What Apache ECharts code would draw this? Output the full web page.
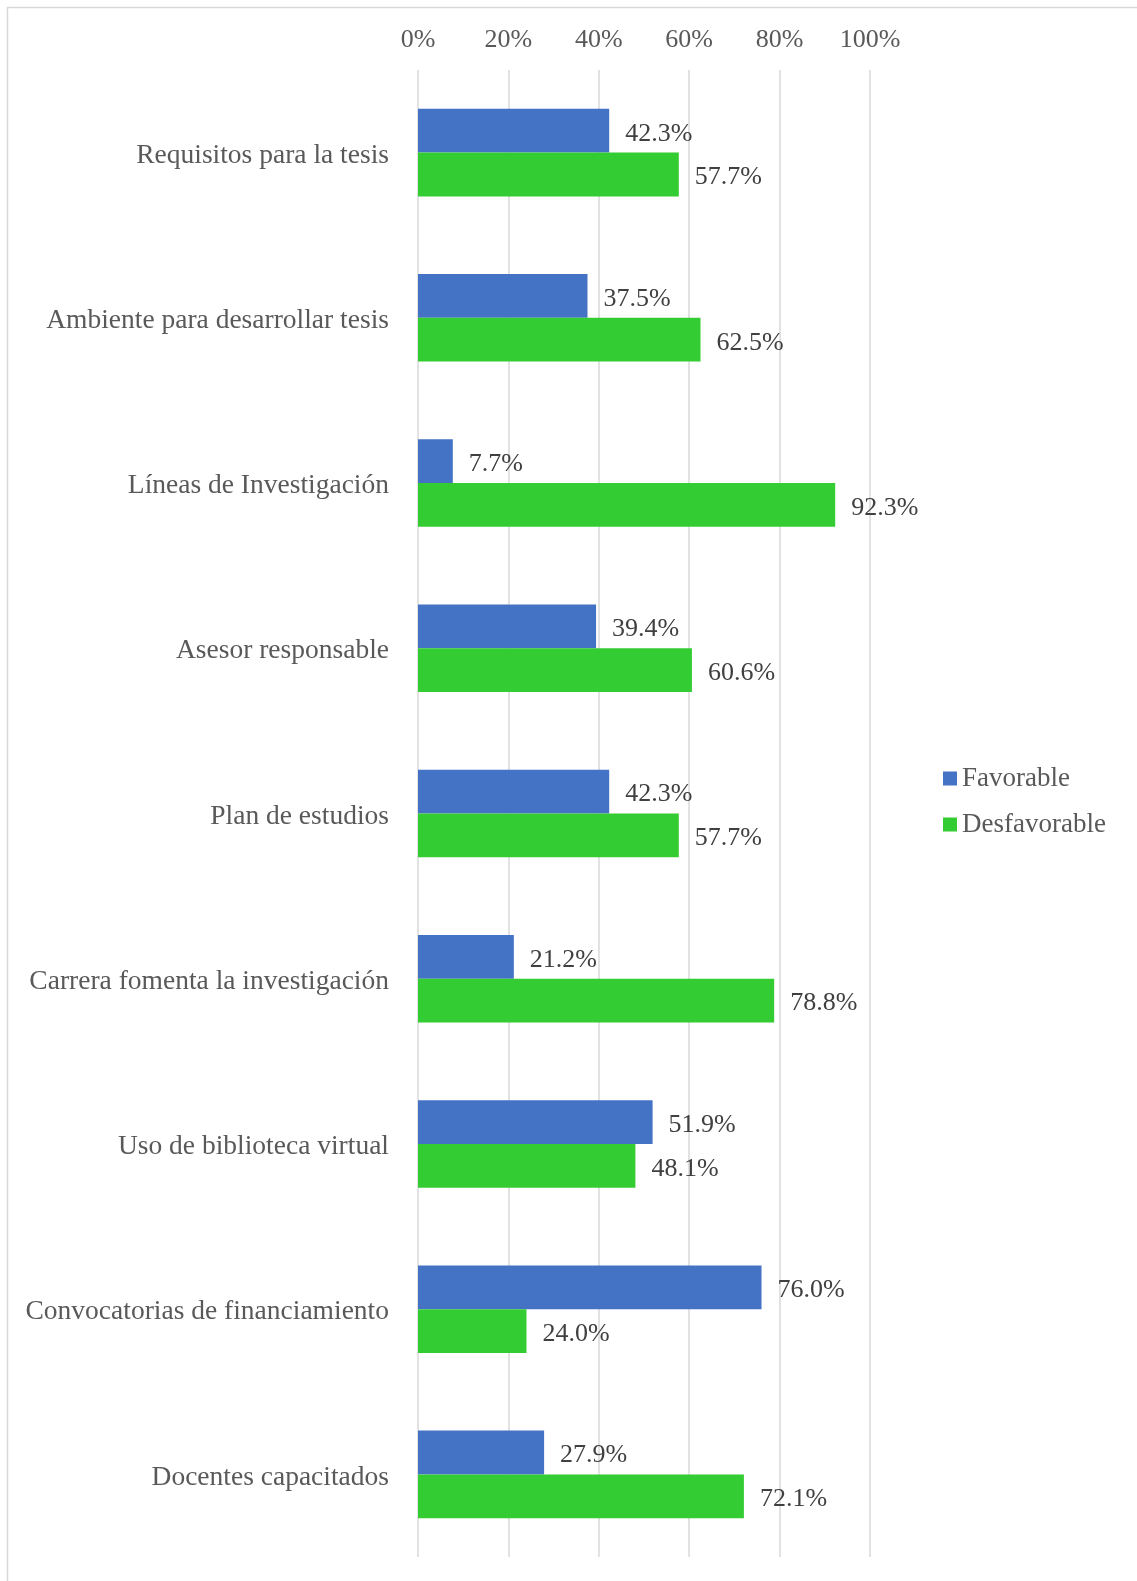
<!DOCTYPE html>
<html>
<head>
<meta charset="utf-8">
<script src="https://cdn.jsdelivr.net/npm/echarts@6/dist/echarts.min.js"></script>
<style>
  html, body { margin: 0; padding: 0; background: #fff; }
  #chart { width: 1137px; height: 1581px; }
</style>
</head>
<body>
<div id="chart"></div>
<script>
// categorias y porcentajes
const categories = [
  'Requisitos para la tesis',
  'Ambiente para desarrollar tesis',
  'Líneas de Investigación',
  'Asesor responsable',
  'Plan de estudios',
  'Carrera fomenta la investigación',
  'Uso de biblioteca virtual',
  'Convocatorias de financiamiento',
  'Docentes capacitados'
];
const favorable = [42.3, 37.5, 7.7, 39.4, 42.3, 21.2, 51.9, 76.0, 27.9];
const desfavorable = [57.7, 62.5, 92.3, 60.6, 57.7, 78.8, 48.1, 24.0, 72.1];

const font = 'Liberation Serif';
const textColor = '#595959';

const barLabel = {
  show: true,
  position: 'right',
  distance: 16,
  offset: [0, 3],
  formatter: p => p.value.toFixed(1) + '%',
  fontFamily: font,
  fontSize: 26,
  color: '#404040'
};

const myChart = echarts.init(document.getElementById('chart'));
myChart.setOption({
  backgroundColor: '#fff',
  animation: false,
  graphic: [
    {
      type: 'rect',
      shape: { x: 7.5, y: 7.5, width: 1200, height: 1700 },
      style: { fill: 'none', stroke: '#d9d9d9', lineWidth: 1.5 },
      silent: true
    }
  ],
  legend: {
    orient: 'vertical',
    left: 938,
    top: 760,
    icon: 'rect',
    itemWidth: 14,
    itemHeight: 14,
    itemGap: 19,
    textStyle: { fontFamily: font, fontSize: 27, color: textColor }
  },
  grid: {
    left: 418,
    right: 267,
    top: 70,
    bottom: 24
  },
  xAxis: {
    type: 'value',
    position: 'top',
    min: 0,
    max: 100,
    interval: 20,
    axisLine: { show: false },
    axisTick: { show: false },
    axisLabel: {
      formatter: '{value}%',
      margin: 17,
      fontFamily: font,
      fontSize: 26,
      color: textColor
    },
    splitLine: { lineStyle: { color: '#d9d9d9', width: 1.5 } }
  },
  yAxis: {
    type: 'category',
    inverse: true,
    data: categories,
    axisLine: { show: false },
    axisTick: { show: false },
    axisLabel: {
      margin: 29,
      formatter: v => '{c|' + v + '}',
      rich: {
        c: {
          padding: [6, 0, 0, 0],
          fontFamily: font,
          fontSize: 27.5,
          color: textColor
        }
      }
    }
  },
  series: [
    {
      name: 'Favorable',
      type: 'bar',
      data: favorable,
      barGap: '0%',
      barCategoryGap: '47%',
      itemStyle: { color: '#4472c4' },
      label: barLabel
    },
    {
      name: 'Desfavorable',
      type: 'bar',
      data: desfavorable,
      barGap: '0%',
      barCategoryGap: '47%',
      itemStyle: { color: '#33cc33' },
      label: barLabel
    }
  ]
});
</script>
</body>
</html>
